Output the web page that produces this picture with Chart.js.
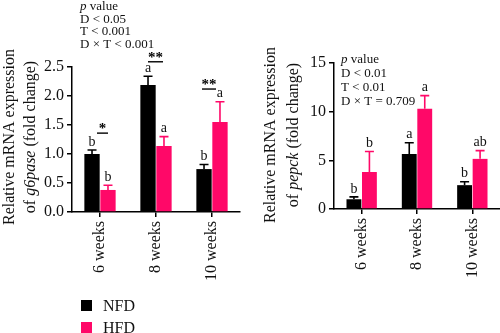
<!DOCTYPE html>
<html>
<head>
<meta charset="utf-8">
<script src="https://cdn.jsdelivr.net/npm/chart.js@4.4.1/dist/chart.umd.min.js"></script>
<style>
  html, body { margin: 0; padding: 0; background: #fff; }
  body { width: 500px; height: 333px; position: relative; overflow: hidden; font-family: "Liberation Serif", serif; }
  canvas { position: absolute; top: 0; }
  #c1 { left: 0; }
  #c2 { left: 250px; }
  .legend { position: absolute; left: 81px; font-size: 16px; color: #111; line-height: 1; }
  .legend span.sw { position: absolute; left: 0; width: 11px; height: 11px; }
  .legend span.lb { position: absolute; left: 22px; top: -2px; white-space: nowrap; }
</style>
</head>
<body>
<canvas id="c1" width="250" height="333"></canvas>
<canvas id="c2" width="250" height="333"></canvas>
<div class="legend" style="top:300px"><span class="sw" style="background:#000"></span><span class="lb">NFD</span></div>
<div class="legend" style="top:322px"><span class="sw" style="background:#ff0868"></span><span class="lb">HFD</span></div>
<script>
// Time points
const categories = ['6 weeks', '8 weeks', '10 weeks'];

// g6pase expression (fold change), mean and upper error
const g6paseNFD = [1.00, 2.19, 0.74];
const g6paseNFDErr = [0.07, 0.15, 0.08];
const g6paseHFD = [0.38, 1.14, 1.55];
const g6paseHFDErr = [0.08, 0.16, 0.35];
const g6paseNFDLetters = ['b', 'a', 'b'];
const g6paseHFDLetters = ['b', 'a', 'a'];
const g6paseSigMarks = ['*', '**', '**'];
const g6paseSigLevels = [1.36, 2.59, 2.12];
const g6paseTicks = [0, 0.5, 1.0, 1.5, 2.0, 2.5];
const g6pasePText = ['D < 0.05', 'T < 0.001', 'D \u00d7 T < 0.001'];

// pepck expression (fold change), mean and upper error
const pepckNFD = [1.00, 5.65, 2.45];
const pepckNFDErr = [0.25, 1.15, 0.35];
const pepckHFD = [3.80, 10.30, 5.15];
const pepckHFDErr = [2.10, 1.35, 0.85];
const pepckNFDLetters = ['b', 'a', 'b'];
const pepckHFDLetters = ['b', 'a', 'ab'];
const pepckTicks = [0, 5, 10, 15];
const pepckPText = ['D < 0.01', 'T < 0.01', 'D \u00d7 T = 0.709'];

const NFD_COLOR = '#000000';
const HFD_COLOR = '#ff0868';
const SERIF = '"Liberation Serif", "DejaVu Serif", serif';

// Error bars, group letters and significance brackets
const annotatePlugin = {
  id: 'annotate',
  afterDatasetsDraw(chart, args, opts) {
    const ctx = chart.ctx;
    const y = chart.scales.y;
    const x = chart.scales.x;
    ctx.save();
    chart.data.datasets.forEach((ds, di) => {
      const meta = chart.getDatasetMeta(di);
      meta.data.forEach((el, i) => {
        const top = y.getPixelForValue(ds.data[i] + ds.errors[i]);
        ctx.strokeStyle = ds.backgroundColor;
        ctx.lineWidth = 1.6;
        ctx.beginPath();
        ctx.moveTo(el.x, el.y);
        ctx.lineTo(el.x, top);
        ctx.moveTo(el.x - 4.5, top);
        ctx.lineTo(el.x + 4.5, top);
        ctx.stroke();
        ctx.fillStyle = '#111';
        ctx.font = '14px ' + SERIF;
        ctx.textAlign = 'center';
        ctx.textBaseline = 'bottom';
        ctx.fillText(ds.letters[i], el.x, top - 1);
      });
    });
    (opts.sig || []).forEach((mark, i) => {
      const cx = x.getPixelForValue(i);
      const ly = y.getPixelForValue(opts.sigLevels[i]);
      const off = opts.sigSpan[i];
      ctx.strokeStyle = '#000';
      ctx.lineWidth = 1.4;
      ctx.beginPath();
      ctx.moveTo(cx + off[0], ly);
      ctx.lineTo(cx + off[1], ly);
      ctx.stroke();
      ctx.fillStyle = '#000';
      ctx.font = 'bold 15px ' + SERIF;
      ctx.textAlign = 'center';
      ctx.textBaseline = 'alphabetic';
      ctx.fillText(mark, (cx + off[0] + cx + off[1]) / 2, ly);
    });
    ctx.restore();
  }
};

// Two-line rotated axis title with an italic gene name, plus p value block
const textPlugin = {
  id: 'texts',
  afterDraw(chart, args, opts) {
    const ctx = chart.ctx;
    ctx.save();
    ctx.fillStyle = '#111';
    ctx.textBaseline = 'middle';
    ctx.translate(opts.titleX, opts.titleY);
    ctx.rotate(-Math.PI / 2);
    const norm = '16px ' + SERIF;
    const ital = 'italic 16px ' + SERIF;
    ctx.font = norm;
    ctx.textAlign = 'center';
    ctx.fillText('Relative mRNA expression', 0, 0);
    const parts = [['of ', norm], [opts.gene, ital], [' (fold change)', norm]];
    let total = 0;
    parts.forEach(p => { ctx.font = p[1]; total += ctx.measureText(p[0]).width; });
    let px = -total / 2;
    ctx.textAlign = 'left';
    parts.forEach(p => {
      ctx.font = p[1];
      ctx.fillText(p[0], px, opts.titleGap);
      px += ctx.measureText(p[0]).width;
    });
    ctx.restore();

    ctx.save();
    ctx.fillStyle = '#111';
    ctx.textBaseline = 'middle';
    ctx.textAlign = 'left';
    let ty = opts.pY;
    ctx.font = 'italic 13px ' + SERIF;
    ctx.fillText('p', opts.pX, ty);
    const pw = ctx.measureText('p ').width;
    ctx.font = '13px ' + SERIF;
    ctx.fillText('value', opts.pX + pw, ty);
    opts.pLines.forEach(line => {
      ty += opts.pStep;
      ctx.fillText(line, opts.pX, ty);
    });
    ctx.restore();
  }
};

function makeChart(id, cfg) {
  return new Chart(document.getElementById(id), {
    type: 'bar',
    data: {
      labels: categories,
      datasets: [
        { label: 'NFD', data: cfg.nfd, errors: cfg.nfdErr, letters: cfg.nfdLetters,
          backgroundColor: NFD_COLOR, borderWidth: 0,
          categoryPercentage: cfg.catPct, barPercentage: 0.96 },
        { label: 'HFD', data: cfg.hfd, errors: cfg.hfdErr, letters: cfg.hfdLetters,
          backgroundColor: HFD_COLOR, borderWidth: 0,
          categoryPercentage: cfg.catPct, barPercentage: 0.96 }
      ]
    },
    options: {
      responsive: false,
      animation: false,
      layout: { padding: { top: cfg.top, right: cfg.right, left: 0, bottom: 0 } },
      plugins: {
        legend: { display: false },
        tooltip: { enabled: false },
        annotate: { sig: cfg.sig, sigLevels: cfg.sigLevels, sigSpan: cfg.sigSpan },
        texts: cfg.texts
      },
      scales: {
        x: {
          offset: true,
          grid: { display: true, drawOnChartArea: false, offset: false, tickLength: 5, color: '#000', lineWidth: 1.5 },
          border: { display: true, color: '#000', width: 1.5 },
          ticks: { color: '#111', font: { family: SERIF, size: 16 }, minRotation: 90, maxRotation: 90, padding: 4 },
          afterFit(s) { s.height = 333 - cfg.bottom; }
        },
        y: {
          min: 0,
          max: cfg.max,
          afterBuildTicks(s) { s.ticks = cfg.ticks.map(v => ({ value: v })); },
          grid: { display: true, drawOnChartArea: false, tickLength: 5, color: '#000', lineWidth: 1.5 },
          border: { display: true, color: '#000', width: 1.5 },
          ticks: { color: '#111', font: { family: SERIF, size: 16 }, padding: 3,
                   callback: v => cfg.fmt(v) },
          afterFit(s) { s.width = cfg.left; }
        }
      }
    },
    plugins: [annotatePlugin, textPlugin]
  });
}

makeChart('c1', {
  nfd: g6paseNFD, nfdErr: g6paseNFDErr, nfdLetters: g6paseNFDLetters,
  hfd: g6paseHFD, hfdErr: g6paseHFDErr, hfdLetters: g6paseHFDLetters,
  sig: g6paseSigMarks, sigLevels: g6paseSigLevels, sigSpan: [[-3, 8], [-8, 7], [-10, 4]],
  max: 2.5, ticks: g6paseTicks, fmt: v => v.toFixed(1),
  catPct: 0.57, left: 72, right: 10, top: 67, bottom: 212,
  texts: { gene: 'g6pase', titleX: 10, titleY: 137, titleGap: 21,
           pX: 80, pY: 7, pStep: 12.5, pLines: g6pasePText }
});

makeChart('c2', {
  nfd: pepckNFD, nfdErr: pepckNFDErr, nfdLetters: pepckNFDLetters,
  hfd: pepckHFD, hfdErr: pepckHFDErr, hfdLetters: pepckHFDLetters,
  sig: [], sigLevels: [], sigSpan: [],
  max: 15, ticks: pepckTicks, fmt: v => String(v),
  catPct: 0.56, left: 84, right: 0, top: 63, bottom: 209,
  texts: { gene: 'pepck', titleX: 21, titleY: 135, titleGap: 23,
           pX: 91, pY: 60, pStep: 14, pLines: pepckPText }
});
</script>
</body>
</html>
